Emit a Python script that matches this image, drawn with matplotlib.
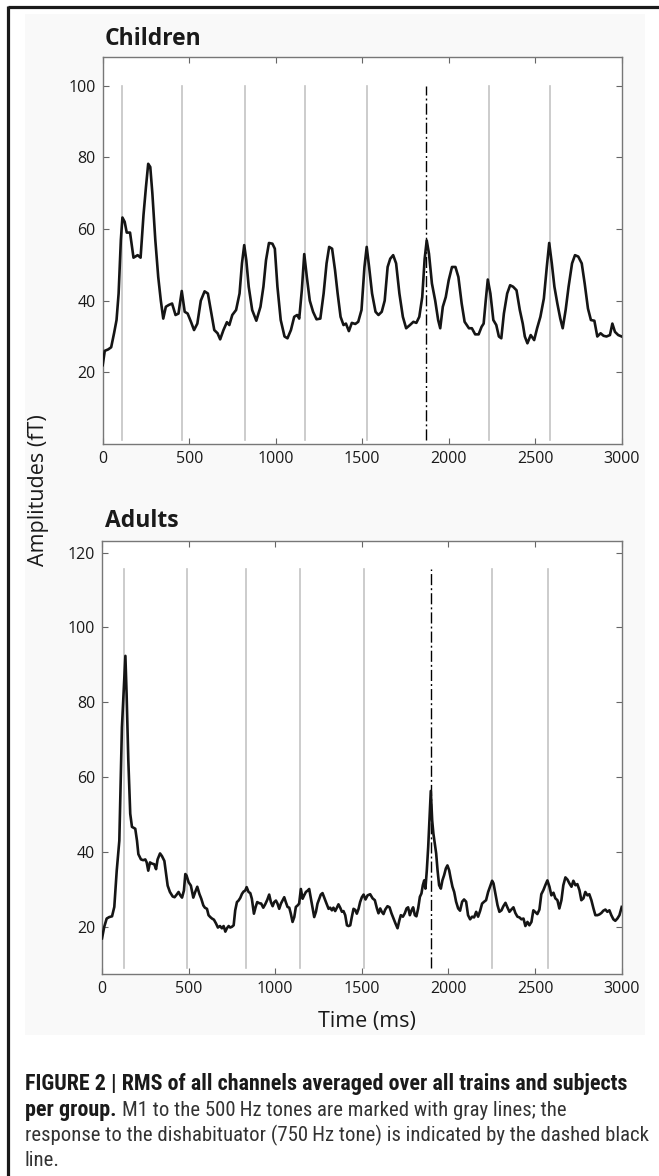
import matplotlib
matplotlib.use("Agg")
import matplotlib.pyplot as plt
from matplotlib.lines import Line2D
from matplotlib.patches import Rectangle
from matplotlib import font_manager as fm

# ---------------- data ----------------
child_t = [0, 12, 32, 49, 66, 80, 92, 105, 114, 127, 139, 158, 178, 202, 219, 236, 250, 263, 275, 287,
           304, 321, 336, 350, 365, 382, 401, 421, 438, 457, 474, 491, 511, 528, 547, 567, 589, 608, 628, 645,
           664, 679, 698, 718, 732, 749, 771, 791, 805, 818, 830, 844, 864, 888, 912, 929, 944, 961, 981, 995,
           1010, 1029, 1051, 1068, 1088, 1107, 1124, 1136, 1151, 1165, 1180, 1197, 1216, 1236, 1258, 1277, 1294,
           1309, 1326, 1343, 1358, 1375, 1392, 1406, 1423, 1440, 1460, 1477, 1496, 1513, 1526, 1540, 1557, 1577,
           1594, 1613, 1630, 1647, 1662, 1679, 1696, 1715, 1735, 1754, 1776, 1796, 1813, 1830, 1847, 1861, 1873,
           1886, 1903, 1922, 1939, 1951, 1966, 1983, 2000, 2019, 2039, 2056, 2075, 2092, 2117, 2134, 2153, 2173,
           2190, 2202, 2214, 2226, 2241, 2258, 2275, 2290, 2304, 2319, 2338, 2355, 2372, 2392, 2411, 2428, 2440,
           2455, 2474, 2494, 2511, 2530, 2550, 2567, 2581, 2596, 2611, 2628, 2645, 2659, 2676, 2693, 2713, 2730,
           2749, 2769, 2786, 2805, 2822, 2842, 2859, 2878, 2895, 2912, 2932, 2946, 2961, 2980, 3000]
child_v = [22, 26, 26.4, 27, 31, 34.6, 42, 57, 63.2, 62, 59, 59, 52, 52.7, 52, 64, 71.7, 78.2, 77.3, 70,
           57, 46.6, 40, 35, 38.3, 38.8, 39.2, 36, 36.4, 42.7, 36.9, 36.4, 34, 31.8, 33.6, 40, 42.6, 42, 36.4, 31.8,
           30.9, 29.2, 31.8, 34, 33.2, 36, 37.4, 42, 50.4, 55.5, 51.3, 43.9, 37.4, 34.4, 38.3, 43.9, 51.3, 56.1, 55.9, 54.5,
           43.9, 34.6, 30, 29.5, 31.8, 35.5, 36, 35, 42.9, 53, 46.6, 40, 36.9, 34.8, 35, 42, 50.4,
           55, 54.5, 48.5, 42, 35.5, 33.2, 33.6, 31.5, 33.8, 33.5, 34.1, 37.4, 49.4, 55, 49.4, 42, 36.9,
           36, 36.9, 40, 49.4, 51.7, 52.7, 50.4, 42, 35.5, 32.3, 33.2, 34.1, 33.8, 35.5, 41, 51.7, 56.8,
           53.1, 44.8, 40, 34.6, 32.3, 38.3, 41, 45.7, 49.4, 49.4, 46.6, 39.2, 34.1, 32.3, 32.3, 30.6, 30.6,
           32.7, 33.6, 40, 45.9, 42, 34.6, 33.2, 30, 29.5, 36.4, 42, 44.3, 43.9, 42.9, 37.4, 33.6, 30,
           28.1, 30.4, 29, 32.3, 35.5, 40.6, 49.4, 56.1, 50.4, 43.9, 39.2, 35, 32.3, 37.4, 43.9, 50.4, 52.7,
           52.3, 50.4, 44.8, 37.8, 34.6, 34.4, 30, 30.9, 30.2, 30, 30.4, 33.6, 31.3, 30.4, 30]

adult_t = [0, 13, 27, 42, 58, 71, 85, 100, 115, 135, 142, 152, 163, 173, 192, 202, 210, 225, 238, 250,
           258, 267, 277, 288, 302, 312, 321, 335, 346, 360, 369, 379, 392, 408, 419, 431, 442, 452, 462, 473,
           481, 488, 500, 513, 527, 538, 550, 562, 573, 585, 594, 606, 615, 625, 635, 646, 658, 669, 681, 692,
           702, 712, 721, 731, 740, 750, 760, 769, 779, 788, 798, 808, 817, 827, 835, 846, 856, 865, 877, 887,
           896, 908, 919, 931, 942, 954, 965, 975, 985, 994, 1004, 1013, 1023, 1033, 1042, 1052, 1061, 1071,
           1081, 1090, 1100, 1110, 1119, 1129, 1138, 1148, 1158, 1167, 1177, 1188, 1196, 1206, 1215, 1225,
           1235, 1244, 1254, 1263, 1273, 1285, 1296, 1308, 1317, 1327, 1336, 1346, 1356, 1365, 1375, 1385,
           1394, 1404, 1414, 1423, 1433, 1442, 1452, 1462, 1471, 1481, 1490, 1500, 1510, 1521, 1533, 1548,
           1562, 1575, 1587, 1596, 1606, 1615, 1625, 1635, 1648, 1660, 1671, 1683, 1694, 1706, 1717, 1725,
           1737, 1748, 1758, 1767, 1777, 1787, 1796, 1806, 1815, 1825, 1835, 1844, 1852, 1860, 1867, 1875,
           1883, 1890, 1898, 1906, 1913, 1921, 1929, 1937, 1946, 1956, 1965, 1975, 1985, 1994, 2004, 2013,
           2023, 2033, 2044, 2056, 2067, 2079, 2090, 2102, 2113, 2125, 2137, 2148, 2160, 2171, 2183, 2194,
           2206, 2217, 2229, 2240, 2252, 2260, 2271, 2283, 2294, 2306, 2317, 2329, 2340, 2352, 2363, 2375,
           2386, 2398, 2410, 2421, 2433, 2444, 2456, 2467, 2479, 2490, 2502, 2513, 2525, 2536, 2548, 2559,
           2571, 2583, 2594, 2606, 2617, 2629, 2640, 2652, 2663, 2675, 2687, 2698, 2710, 2721, 2733, 2744,
           2756, 2767, 2779, 2790, 2802, 2813, 2825, 2837, 2848, 2860, 2871, 2883, 2894, 2906, 2917, 2929,
           2940, 2952, 2963, 2975, 2987, 3000]
adult_v = [16.9, 20, 22.2, 22.6, 22.8, 25.3, 35, 43, 73.3, 92.4, 82.2, 64.4, 50.2, 46.7, 46.2, 43, 39.4, 38, 37.8, 38,
           37.2, 35, 37.2, 36.9, 36.7, 35.4, 38, 39.6, 38.9, 37.6, 34.5, 31, 29.3, 28.1, 27.9, 28.6, 29.3, 28.4, 27.8, 29.7,
           34.1, 33.7, 31.9, 31, 27.8, 29.3, 30.7, 28.8, 27.5, 25.7, 25.1, 24.8, 23.1, 22.6, 22.2, 21.9, 20.9, 19.8, 20.2, 19.6,
           20.2, 18.7, 19.6, 20.2, 19.8, 20, 20.4, 24.4, 26.6, 27, 27.7, 28.8, 29.4, 29.7, 30.6, 29.3, 29, 27.5, 23.5, 25.3,
           26.6, 26.3, 26.2, 25.1, 26, 27.2, 28.6, 26.6, 25.5, 26.6, 27, 26.2, 24.8, 26.2, 27, 27.9, 26.6, 25.3,
           25.1, 23.5, 21.3, 22.6, 25.3, 25.7, 26.2, 30.1, 27.5, 28.4, 29.3, 29.7, 30.1, 27.5, 25.3, 22.6,
           24, 26.2, 27.5, 28.6, 29, 27.5, 26.2, 24.8, 25.1, 24.4, 25.1, 24.2, 25.1, 26, 25.1, 24,
           24.2, 23.1, 20.4, 20.2, 20.4, 22.6, 24.8, 24.5, 23.5, 24.8, 26.6, 27.9, 28.6, 27.3, 28.4, 28.7,
           27.6, 27.1, 24.9, 23.6, 24.9, 24, 23.4, 24.6, 25.5, 25.2, 23.6, 22.2, 20.9, 19.6, 21.8, 23.1,
           22.7, 23.6, 24.9, 25.2, 23.1, 24.4, 25.2, 23.1, 22.8, 24.9, 28, 28.9, 31.1, 32.4, 30.2, 35.1,
           41.3, 48.4, 56.3, 48.4, 44.9, 42.2, 39.6, 35.1, 31.1, 30.2, 32.4, 33.8, 35.6, 36.4, 35.1, 32.9,
           30.7, 29.3, 26.7, 24.9, 24.3, 26.7, 27.3, 26.7, 23.1, 22, 22.7, 22.5, 24, 22.7, 24.3, 26.2,
           26.7, 27.1, 29.3, 30.7, 32.3, 31.6, 28.9, 25.8, 24, 24.4, 25.5, 26.4, 25.2, 24, 24.6, 25.2,
           23.7, 22.7, 22.5, 22, 22.2, 20.2, 21.3, 20.4, 21.3, 24.4, 23.9, 23.4, 24.6, 28.7, 29.8, 31.1,
           32.4, 30.7, 28.4, 29.1, 27.6, 27.1, 24.9, 27.1, 31.1, 33.2, 32.6, 31.6, 30.7, 32.3, 31.1, 31.4,
           29.8, 27.1, 27.6, 29.3, 28.4, 28.7, 27.1, 24.9, 23.1, 23.1, 23.3, 23.7, 24.3, 24.6, 24, 24.4,
           23.1, 22, 21.6, 22.2, 23.1, 25.3]

child_tones = [114, 457, 820, 1168, 1528, 2231, 2586]
child_odd = 1869
adult_tones = [129, 489, 831, 1144, 1512, 2254, 2575]
adult_odd = 1898

x_ticks = [0, 500, 1000, 1500, 2000, 2500, 3000]
child_yticks = [20, 40, 60, 80, 100]
adult_yticks = [20, 40, 60, 80, 100, 120]

caption_lines = [
    "FIGURE 2 | RMS of all channels averaged over all trains and subjects",
    "per group.",
    "M1 to the 500\u2009Hz tones are marked with gray lines; the",
    "response to the dishabituator (750\u2009Hz tone) is indicated by the dashed black",
    "line.",
]

# ---------------- figure ----------------
W, H = 659, 1176
fig = plt.figure(figsize=(W / 100, H / 100), dpi=100)
fig.patch.set_facecolor("white")

FONT = ["Open Sans", "DejaVu Sans"]


def pick_font(cands):
    for c in cands:
        try:
            fm.findfont(fm.FontProperties(family=c), fallback_to_default=False)
            return c
        except Exception:
            continue
    return "DejaVu Sans"


CAPNAME = pick_font(["Liberation Sans Narrow", "Roboto Condensed", "DejaVu Sans Condensed",
                     "Open Sans Condensed", "Roboto"])
CAPFONT = [CAPNAME, "DejaVu Sans"]

# faint panel background
fig.add_artist(Rectangle((25 / W, 1 - 1035 / H), 620 / W, (1035 - 14) / H,
                         transform=fig.transFigure, facecolor="#f9f9f9", edgecolor="none", zorder=0))

# frame lines
fig.add_artist(Line2D([8.3 / W, 1.0], [1 - 6.7 / H, 1 - 6.7 / H], transform=fig.transFigure,
                      color="#1a1a1a", lw=2.3, solid_capstyle="butt"))
fig.add_artist(Line2D([8.3 / W, 8.3 / W], [1 - 5.5 / H, 0.0], transform=fig.transFigure,
                      color="#1a1a1a", lw=2.3, solid_capstyle="butt"))


def make_axes(rect, t, v, tones, odd, ylim, yticks, vline_range, title, title_y):
    ax = fig.add_axes(rect)
    ax.set_facecolor("white")
    for x in tones:
        ax.plot([x, x], vline_range, color="#c4c4c4", lw=1.2, zorder=1)
    ax.plot([odd, odd], vline_range, color="black", lw=1.0,
            linestyle=(0, (8, 2.2, 1.4, 2.2)), zorder=2)
    ax.plot(t, v, color="#151515", lw=1.9, zorder=3, solid_joinstyle="round")
    ax.set_xlim(0, 3000)
    ax.set_ylim(*ylim)
    ax.set_xticks(x_ticks)
    ax.set_yticks(yticks)
    ax.tick_params(direction="in", length=4.5, width=0.8, color="#666666",
                   top=True, right=True, labelsize=11.5, pad=5, labelcolor="#1a1a1a")
    for lab in ax.get_xticklabels() + ax.get_yticklabels():
        lab.set_family(FONT)
    for s in ax.spines.values():
        s.set_color("#777777")
        s.set_linewidth(1.0)
    fig.text(105 / W, 1 - title_y / H, title, fontsize=16.5, fontweight="bold",
             family=FONT, va="baseline", ha="left", color="#1a1a1a")
    return ax


ax1 = make_axes([102.7 / W, 1 - 444 / H, 519 / W, 387 / H], child_t, child_v, child_tones, child_odd,
                (0, 108), child_yticks, [1, 100], "Children", 45)
ax2 = make_axes([102 / W, 1 - 974.3 / H, 519.7 / W, 433.3 / H], adult_t, adult_v, adult_tones, adult_odd,
                (7.3, 123.1), adult_yticks, [8.9, 115.6], "Adults", 527)

fig.text(39 / W, 1 - 490 / H, "Amplitudes (fT)", rotation=90, fontsize=15.5, family=FONT,
         ha="center", va="center", color="#1a1a1a")
fig.text(367 / W, 1 - 1022 / H, "Time (ms)", fontsize=15.5, family=FONT,
         ha="center", va="center", color="#1a1a1a")

# caption: fit sizes so line widths match the reference
x0 = 25 / W
r = fig.canvas.get_renderer()


def width_px(txt, size, weight):
    t = fig.text(0, 0, txt, fontsize=size, fontweight=weight, family=CAPFONT)
    w = t.get_window_extent(renderer=r).width
    t.remove()
    return w


bold_size = 12.0 * 603.0 / width_px(caption_lines[0], 12.0, "bold")
reg_size = 12.0 * 621.0 / width_px(caption_lines[3], 12.0, "normal")
kw = dict(va="baseline", family=CAPFONT)

fig.text(x0, 1 - 1090 / H, caption_lines[0], fontsize=bold_size, fontweight="bold", color="#1a1a1a", **kw)
b = fig.text(x0, 1 - 1116 / H, caption_lines[1], fontsize=bold_size, fontweight="bold", color="#1a1a1a", **kw)
bb = b.get_window_extent(renderer=r)
fig.text((bb.x1 + 5) / W, 1 - 1116 / H, caption_lines[2], fontsize=reg_size, color="#333333", **kw)
fig.text(x0, 1 - 1141 / H, caption_lines[3], fontsize=reg_size, color="#333333", **kw)
fig.text(x0, 1 - 1166 / H, caption_lines[4], fontsize=reg_size, color="#333333", **kw)

fig.savefig("out.png", dpi=100, facecolor="white")
